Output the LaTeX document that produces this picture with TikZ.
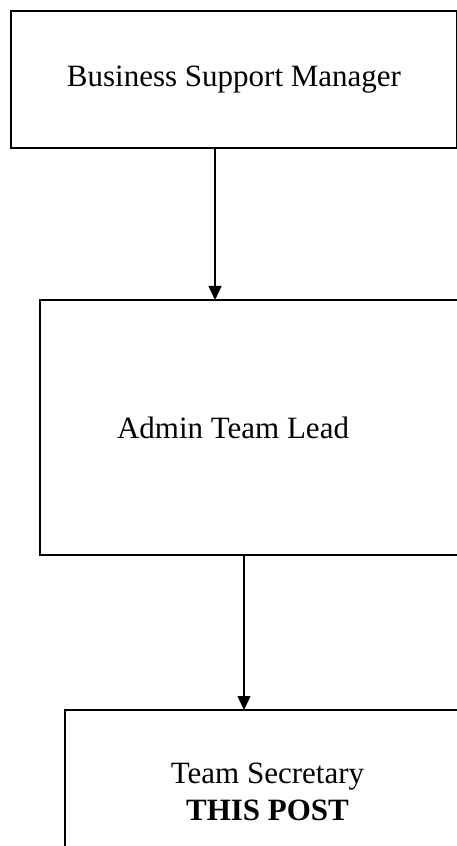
\documentclass[tikz,border=0pt]{standalone}
\usepackage{fontspec}
\setmainfont{Liberation Serif}
\usetikzlibrary{arrows.meta}

\begin{document}
\begin{tikzpicture}[x=0.4pt,y=-0.4pt,
    postbox/.style={draw,line width=0.8pt,inner sep=0pt,outer sep=0pt,align=center,font=\fontsize{12.4}{14.8}\selectfont},
    posttext/.style={inner sep=0pt,font=\fontsize{12.4}{14.8}\selectfont},
    down/.style={-{Triangle[width=5.2pt,length=5.6pt]},line width=0.5pt}]
      \useasboundingbox (0,0) rectangle (456,846);
      \node[postbox,minimum width=178.4pt,minimum height=54.8pt] (boss) at (234,79.5) {Business Support Manager};
      \node[postbox,minimum width=172pt,minimum height=102pt] (lead) at (255,427.5) {};
      \node[posttext] (leadtext) at (233,427.5) {Admin Team Lead};
      \node[postbox,minimum width=162pt,minimum height=65.2pt] (sec) at (267.5,791.5) {Team Secretary\\\textbf{THIS POST}};
      \coordinate (a1) at (215,0);
      \coordinate (a2) at (244,0);
      \draw[down] (boss.south -| a1) -- (lead.north -| a1);
      \draw[down] (lead.south -| a2) -- (sec.north -| a2);
    \end{tikzpicture}
\end{document}
